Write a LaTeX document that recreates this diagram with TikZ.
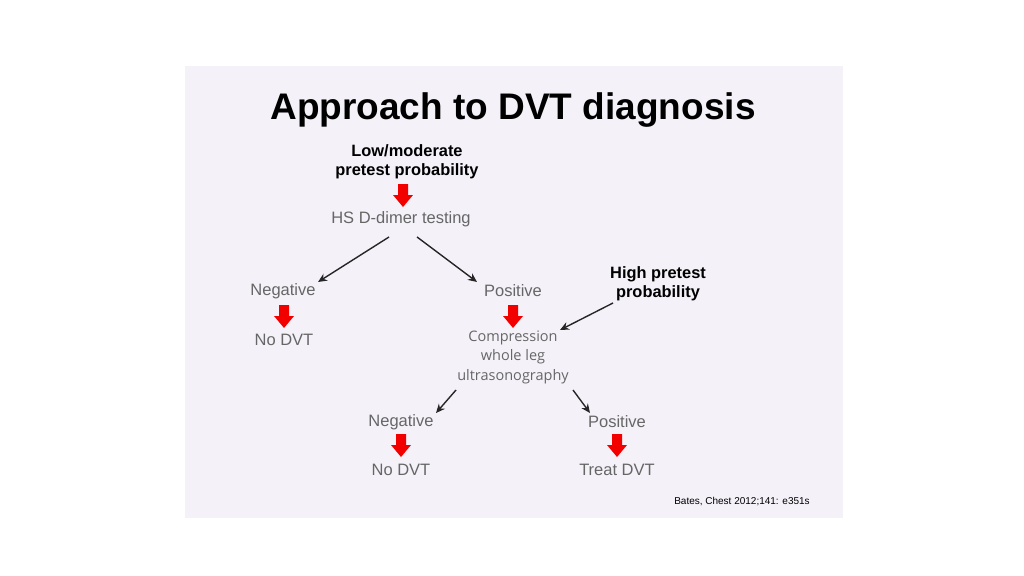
\documentclass[tikz,border=0pt]{standalone}
\usepackage{fontspec}
\usetikzlibrary{arrows.meta}
\setmainfont{Liberation Sans}
\newfontfamily\osans{Open Sans}
\definecolor{slide}{RGB}{245,241,249}
\begin{document}
\begin{tikzpicture}[x=1pt,y=-1pt,
  lbl/.style={text=black!60,font=\fontsize{16.5}{19}\selectfont,inner sep=0pt},
  bold/.style={font=\fontsize{16.4}{19}\selectfont\bfseries,align=center,inner sep=0pt},
  conn/.style={-{Stealth[length=9pt,width=8pt]},line width=1.4pt,black!85},
  redarr/.pic={\fill[red!95!black] (-5,0)--(5,0)--(5,11)--(10,11)--(0,23)--(-10,11)--(-5,11)--cycle;}]
\useasboundingbox (0,0) rectangle (1024,575);
\fill[white] (0,0) rectangle (1024,575);
\fill[slide] (185,66) rectangle (843,518);
\node[font=\fontsize{37}{42}\selectfont\bfseries] (title) at (513,110) {Approach to DVT diagnosis};
\node[bold] (low) at (407,162) {Low/moderate\\pretest probability};
\pic at (403,184) {redarr};
\node[lbl] (hs) at (401,219) {HS D-dimer testing};
\node[lbl] (neg1) at (283,291) {Negative};
\node[lbl] (pos1) at (513,291) {Positive};
\pic at (284,305) {redarr};
\pic at (513,305) {redarr};
\node[lbl] (nodvt1) at (284,340) {No DVT};
\node[lbl,font=\osans\fontsize{14.5}{19.5}\selectfont,align=center] (cus) at (513,357) {Compression\\whole leg\\ultrasonography};
\node[bold] (high) at (658,284) {High pretest\\probability};
\node[lbl] (neg2) at (401,422) {Negative};
\node[lbl] (pos2) at (617,422) {Positive};
\pic at (401,434) {redarr};
\pic at (617,434) {redarr};
\node[lbl] (nodvt2) at (401,470) {No DVT};
\node[lbl] (treat) at (617,470) {Treat DVT};
\node[font=\fontsize{10}{12}\selectfont,inner sep=0pt] (cite) at (742,502) {Bates, Chest 2012;141: e351s};
\coordinate (a1) at (389,237); \coordinate (a2) at (417,237);
\coordinate (b1) at (613,303);
\coordinate (c1) at (456,390); \coordinate (c2) at (573,390);
\draw[conn] (a1) -- (318,282);
\draw[conn] (a2) -- (477,282);
\draw[conn] (b1) -- (560,330);
\draw[conn] (c1) -- (436,413);
\draw[conn] (c2) -- (590,413);
\end{tikzpicture}
\end{document}
